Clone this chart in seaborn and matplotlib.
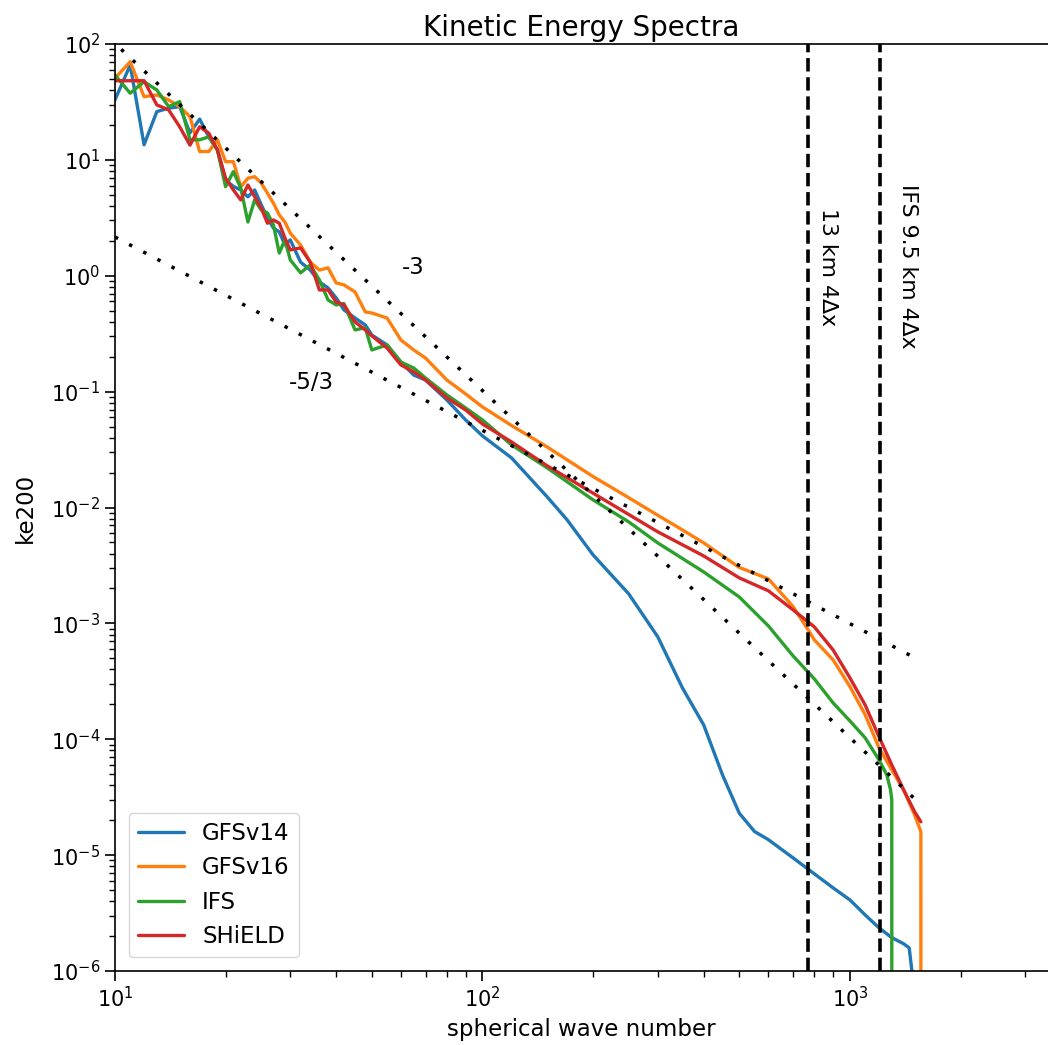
import numpy as np
import pandas as pd
import matplotlib
matplotlib.use("Agg")
import matplotlib.pyplot as plt
import seaborn as sns

# wavenumbers shared by the low-k part of every curve
k_low = [10, 11, 12, 13, 14, 15, 16, 17, 18, 19, 20, 21, 22, 23, 24, 25,
         26, 27, 28, 29, 30, 32, 34, 36, 38, 40, 42, 45, 48, 50, 55, 60,
         65, 70, 80, 90, 100, 120, 150]

gfsv14_k = k_low + [170, 200, 250, 300, 350, 400, 450, 500, 550, 600, 700,
                    800, 900, 1000, 1100, 1200, 1300, 1400, 1450, 1490]
gfsv14_ke = [32.9, 65.9, 13.5, 26.1, 27.9, 28.8, 17.1, 22.5, 15.8, 12.2, 6.7,
             5.9, 5.5, 4.8, 5.5, 4.1, 3.15, 2.58, 2.39, 1.85, 2.04, 1.31, 1.12,
             0.885, 0.785, 0.643, 0.507, 0.432, 0.376, 0.308, 0.253, 0.180,
             0.139, 0.126, 0.0848, 0.0570, 0.0415, 0.0268, 0.01236,
             7.82e-3, 3.90e-3, 1.80e-3, 7.66e-4, 2.78e-4, 1.33e-4, 4.93e-5,
             2.30e-5, 1.60e-5, 1.36e-5, 9.48e-6, 6.90e-6, 5.22e-6, 4.11e-6,
             3.05e-6, 2.36e-6, 1.94e-6, 1.72e-6, 1.58e-6, 7.6e-7]

gfsv16_k = k_low + [200, 250, 300, 350, 400, 500, 600, 700, 770, 800, 900,
                    1000, 1100, 1200, 1300, 1400, 1500, 1560, 1561]
gfsv16_ke = [50.6, 70.3, 35.1, 36.3, 32.9, 28.8, 23.6, 11.8, 11.8, 14.9, 9.65,
             9.65, 5.87, 6.94, 7.16, 6.32, 5.15, 4.22, 3.35, 2.91, 2.33, 1.84,
             1.31, 1.12, 1.17, 0.867, 0.834, 0.725, 0.487, 0.477, 0.432, 0.279,
             0.229, 0.195, 0.126, 0.0955, 0.0738, 0.0510, 0.0333,
             0.0185, 0.01216, 8.57e-3, 6.41e-3, 4.95e-3, 3.04e-3, 2.42e-3,
             1.40e-3, 8.79e-4, 7.21e-4, 4.84e-4, 2.85e-4, 1.63e-4, 8.43e-5,
             5.45e-5, 3.66e-5, 2.23e-5, 1.59e-5, 1e-9]

ifs_k = k_low + [200, 250, 300, 400, 500, 600, 700, 800, 900, 1000, 1100,
                 1200, 1260, 1290, 1300, 1301]
ifs_ke = [54.0, 37.6, 47.3, 40.1, 28.8, 31.8, 14.9, 14.9, 15.8, 12.2, 5.87,
          7.91, 5.72, 2.91, 4.51, 3.70, 3.48, 2.74, 1.57, 2.04, 1.37, 1.06,
          1.24, 0.920, 0.618, 0.560, 0.575, 0.341, 0.355, 0.229, 0.253, 0.180,
          0.160, 0.131, 0.0937, 0.0723, 0.0570, 0.0347, 0.0220,
          0.01164, 7.52e-3, 4.95e-3, 2.78e-3, 1.69e-3, 9.51e-4, 5.25e-4,
          3.32e-4, 2.06e-4, 1.44e-4, 1.03e-4, 6.64e-5, 4.93e-5, 3.66e-5,
          3.00e-5, 1e-9]

shield_k = k_low + [200, 250, 300, 400, 500, 600, 700, 800, 900, 1000, 1100,
                    1200, 1300, 1400, 1500, 1560]
shield_ke = [48.2, 48.2, 48.2, 29.8, 27.0, 19.3, 13.4, 19.3, 17.0, 12.2, 6.94,
             5.50, 4.51, 6.07, 4.81, 3.85, 2.84, 3.03, 2.84, 2.12, 1.67, 1.74,
             1.31, 0.754, 0.754, 0.594, 0.560, 0.399, 0.341, 0.303, 0.238,
             0.170, 0.148, 0.126, 0.0883, 0.0695, 0.0526, 0.0368, 0.0229,
             0.0133, 8.71e-3, 6.17e-3, 3.82e-3, 2.47e-3, 1.91e-3, 1.31e-3,
             9.33e-4, 5.90e-4, 3.39e-4, 1.98e-4, 1.05e-4, 6.01e-5, 3.66e-5,
             2.37e-5, 1.94e-5]

models = ["GFSv14", "GFSv16", "IFS", "SHiELD"]
colors = ["#1f77b4", "#ff7f0e", "#2ca02c", "#d62728"]

# reference slopes (end points)
slope3_k = [10.4, 1540]
slope3_ke = [90, 2.83e-5]
slope53_k = [10, 1540]
slope53_ke = [2.16, 4.84e-4]

cutoff_k = [770, 1210]
cutoff_labels = ["13 km 4\u0394x", "IFS 9.5 km 4\u0394x"]
cutoff_text_k = [870, 1440]

df = pd.concat([
    pd.DataFrame({"k": gfsv14_k, "ke": gfsv14_ke, "model": "GFSv14"}),
    pd.DataFrame({"k": gfsv16_k, "ke": gfsv16_ke, "model": "GFSv16"}),
    pd.DataFrame({"k": ifs_k, "ke": ifs_ke, "model": "IFS"}),
    pd.DataFrame({"k": shield_k, "ke": shield_ke, "model": "SHiELD"}),
], ignore_index=True)

sns.set_style("ticks")
plt.rcParams["font.family"] = ["DejaVu Sans"]
plt.rcParams.update({"text.color": "black", "axes.labelcolor": "black",
                     "xtick.color": "black", "ytick.color": "black",
                     "axes.edgecolor": "black"})

fig = plt.figure(figsize=(10.48, 10.45), dpi=100)
ax = fig.add_axes([0.1097, 0.0708, 0.8903, 0.8871])

sns.lineplot(data=df, x="k", y="ke", hue="model", hue_order=models,
             palette=colors, estimator=None, sort=False, linewidth=2.4, ax=ax)

ax.plot(slope3_k, slope3_ke, color="k", lw=2.5, dashes=(1, 3.6))
ax.plot(slope53_k, slope53_ke, color="k", lw=2.5, dashes=(1, 3.6))
ax.text(64.7, 1.17, "-3", fontsize=16.5, ha="center", va="center")
ax.text(34.3, 0.119, "-5/3", fontsize=16.5, ha="center", va="center")

for xk, lab, tx in zip(cutoff_k, cutoff_labels, cutoff_text_k):
    ax.axvline(xk, color="k", ls="--", lw=2.6)
    ax.text(tx, 1.2, lab, rotation=270, fontsize=15.8, ha="center", va="center")

ax.set_xscale("log")
ax.set_yscale("log")
ax.set_xlim(10, 3460)
ax.set_ylim(1e-6, 1e2)
ax.spines["right"].set_visible(False)
for s in ["top", "left", "bottom"]:
    ax.spines[s].set_linewidth(1.2)
    ax.spines[s].set_color("black")
ax.tick_params(which="major", labelsize=15, length=7, width=1.2)
ax.tick_params(which="minor", length=4, width=1.0)

ax.set_title("Kinetic Energy Spectra", fontsize=20, pad=6)
ax.set_xlabel("spherical wave number", fontsize=16.5, labelpad=5)
ax.set_ylabel("ke200", fontsize=16.5, labelpad=10)

sns.move_legend(ax, "lower left", title=None, fontsize=16.5, frameon=True,
                borderaxespad=0.6)

fig.savefig("out.png", dpi=100)
